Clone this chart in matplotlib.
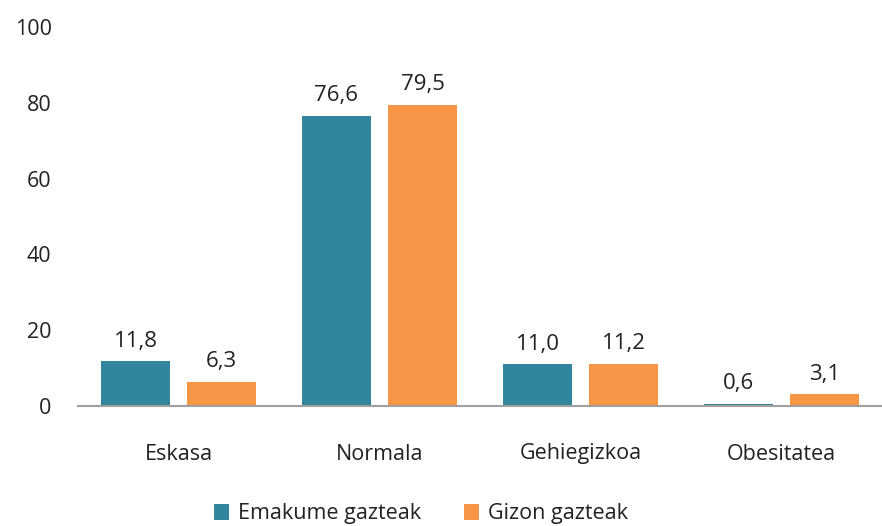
import numpy as np
import matplotlib.pyplot as plt

categories = ['Eskasa', 'Normala', 'Gehiegizkoa', 'Obesitatea']
emakume = [11.8, 76.6, 11.0, 0.6]
gizon = [6.3, 79.5, 11.2, 3.1]
series_names = ['Emakume gazteak', 'Gizon gazteak']

teal = '#31859C'
orange = '#F79646'

plt.rcParams['font.family'] = ['Open Sans', 'DejaVu Sans']

fig = plt.figure(figsize=(8.82, 5.26), dpi=100)
ax = fig.add_axes([78 / 882, 1 - 406 / 526, 804 / 882, 379 / 526])

x = np.arange(len(categories))
w = 0.34
off = 0.214
b1 = ax.bar(x - off, emakume, w, color=teal, label=series_names[0])
b2 = ax.bar(x + off, gizon, w, color=orange, label=series_names[1])

def fmt(v):
    return ('%.1f' % v).replace('.', ',')

for bars, vals in [(b1, emakume), (b2, gizon)]:
    for b, v in zip(bars, vals):
        ax.annotate(fmt(v), (b.get_x() + b.get_width() / 2, v),
                    xytext=(0, 7), textcoords='offset points',
                    ha='center', va='bottom', fontsize=16, color='#222222')

ax.set_xlim(-0.5, 3.5)
ax.set_ylim(0, 100)
ax.set_yticks(range(0, 101, 20))
ax.set_xticks(x)
ax.set_xticklabels(categories)
ax.tick_params(axis='both', length=0, labelsize=15.5, colors='#222222')
ax.tick_params(axis='x', pad=27)
ax.tick_params(axis='y', pad=19)
for s in ['top', 'right', 'left']:
    ax.spines[s].set_visible(False)
ax.spines['bottom'].set_color('#A0A0A0')
ax.spines['bottom'].set_linewidth(1.5)

leg = fig.legend(loc='center', bbox_to_anchor=(421 / 882, 1 - 514 / 526), ncol=2,
                 frameon=False, fontsize=15.5, handlelength=0.7, handleheight=0.7,
                 handletextpad=0.4, columnspacing=2.0)
for t in leg.get_texts():
    t.set_color('#222222')

fig.savefig('out.png', dpi=100)
